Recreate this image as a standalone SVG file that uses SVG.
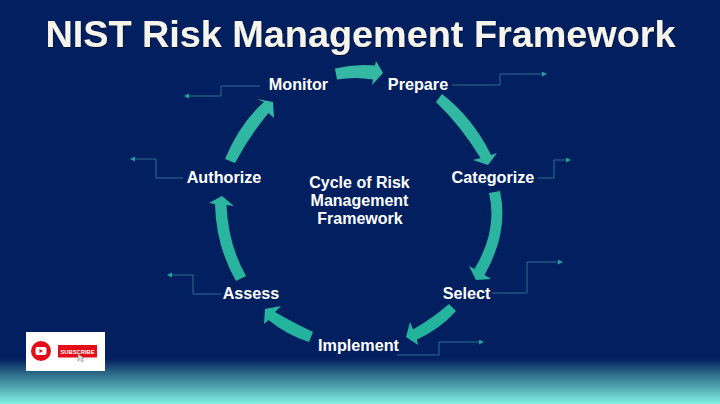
<svg xmlns="http://www.w3.org/2000/svg" width="720" height="404" viewBox="0 0 720 404">
<defs>
<linearGradient id="bg" x1="0" y1="0" x2="0" y2="1"><stop offset="0" stop-color="#02205f"/><stop offset="0.35" stop-color="#2f6f8a"/><stop offset="1" stop-color="#80f2e2"/></linearGradient>
<linearGradient id="teal" gradientUnits="userSpaceOnUse" x1="0" y1="60" x2="0" y2="350"><stop offset="0" stop-color="#35b8a4"/><stop offset="1" stop-color="#22b39c"/></linearGradient>
<marker id="tip" markerWidth="6" markerHeight="6" refX="3" refY="2.5" orient="auto"><path d="M0 0L5 2.5L0 5Z" fill="#1f9fa6"/></marker>
<filter id="sh" x="-5%" y="-20%" width="110%" height="150%"><feDropShadow dx="0.6" dy="0.8" stdDeviation="0.7" flood-color="#000" flood-opacity="0.6"/></filter>
</defs>
<style>
text{font-family:"Liberation Sans",Arial,sans-serif;font-weight:700;fill:#fff;text-anchor:middle}
.t{font-size:37.8px;fill:#f6f4ec}
.n{font-size:16.2px}
.c{font-size:16px}
.a{fill:url(#teal)}
.l{fill:none;stroke:#2c6d93;stroke-width:1;marker-end:url(#tip)}
</style>
<rect width="720" height="404" fill="#02205f"/>
<rect y="359" width="720" height="45" fill="url(#bg)"/>
<text class="t" x="360.500" y="47" filter="url(#sh)">NIST Risk Management Framework</text>
<g id="connectors">
<path class="a" d="M335 68.500Q355 63.500 375 65.500L376 61L383 73L372 85L373 79.500Q355 76.500 337 79.500Z"/>
<path class="a" d="M442 94Q473 118 491 155L497 153L488 165L473 160L480.500 158Q461 126 436 102Z"/>
<path class="a" d="M500 191Q509 232 484.500 275L491 279L476 280L469 266L474.500 269Q498 230 489 193Z"/>
<path class="a" d="M449 304Q433 318 413 329.500L410 322L406 337L418 345L417 339.500Q440 329 456 311Z"/>
<path class="a" d="M313 332Q292 322 275 312L281 306L265 309L264 324L268.500 320Q287 335 309 342Z"/>
<path class="a" d="M246 276Q228 244 226.500 205L234 206L222 196L209 203L215 204Q216 246 236 281Z"/>
<path class="a" d="M225 159Q240 123 264 102L257 99L273 102L274 118L268.500 113Q250 135 235 163Z"/>
<path class="l" d="M452 85H500V74H545"/>
<path class="l" d="M538 178H554V160H569"/>
<path class="l" d="M492 293H527V262H561"/>
<path class="l" d="M397 355H439V342H482"/>
<path class="l" d="M221 294H193V275H169"/>
<path class="l" d="M183 178H156V159H132"/>
<path class="l" d="M260 86H221V96H186"/>
</g>
<g id="monitor"><text class="n" x="298.500" y="89.500">Monitor</text></g>
<g id="prepare"><text class="n" x="418" y="89.500">Prepare</text></g>
<g id="categorize"><text class="n" x="493" y="182.500">Categorize</text></g>
<g id="select"><text class="n" x="466.500" y="298.500">Select</text></g>
<g id="implement"><text class="n" x="358.500" y="351">Implement</text></g>
<g id="assess"><text class="n" x="251" y="299">Assess</text></g>
<g id="authorize"><text class="n" x="224" y="182.500">Authorize</text></g>
<g id="center"><text class="c" x="359.500" y="188">Cycle of Risk</text><text class="c" x="359.500" y="206">Management</text><text class="c" x="360" y="224">Framework</text></g>
<g id="subscribe">
<rect x="26" y="332" width="79" height="39" fill="#fff"/>
<circle cx="41" cy="351" r="10" fill="#e30e17"/>
<rect x="35.500" y="347" width="11" height="8" rx="2" fill="#fff"/>
<path d="M39.500 349L43 351L39.500 353Z" fill="#e30e17"/>
<rect x="58" y="345" width="39" height="12.500" fill="#e30e17"/>
<text x="77.500" y="353.500" style="font-size:5.800px">SUBSCRIBE</text>
<path d="M78 354L78 361L80 359.500L82 362L83.500 361L82 358.500L84 358Z" fill="#ddd" stroke="#777" stroke-width="0.5"/>
</g>
</svg>
